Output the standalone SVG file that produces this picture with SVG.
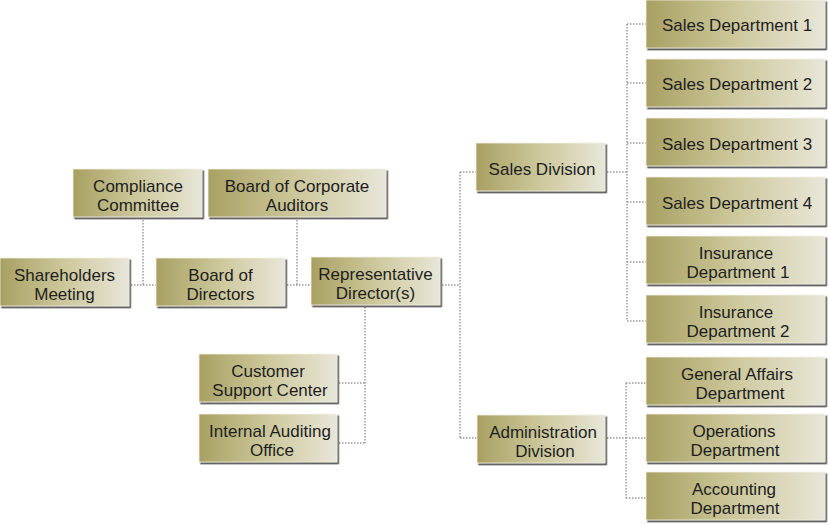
<svg xmlns="http://www.w3.org/2000/svg" width="828" height="525" viewBox="0 0 828 525">
<defs>
<linearGradient id="g" x1="0" y1="0" x2="1" y2="0">
<stop offset="0" stop-color="#a8a062"/>
<stop offset="0.5" stop-color="#cdc89c"/>
<stop offset="1" stop-color="#e8e6d8"/>
</linearGradient>
<filter id="sh" x="-5%" y="-10%" width="115%" height="130%">
<feDropShadow dx="1.6" dy="1.8" stdDeviation="0.7" flood-color="#3a3a3a" flood-opacity="0.9"/>
</filter>
</defs>
<style>
.b{fill:url(#g);stroke:#f2f0e4;stroke-width:0.8;filter:url(#sh)}
.t{font-family:"Liberation Sans",Arial,sans-serif;font-size:17px;fill:#1e1e1e;text-anchor:middle}
.c{fill:none;stroke:#9a9a9a;stroke-width:1.5;stroke-dasharray:1.5 1.5}
</style>
<rect width="828" height="525" fill="#ffffff"/>
<g id="connectors">
<path class="c" d="M131 285H156M143 220V285M287 285H311M297 220V285"/>
<path class="c" d="M442 285H460M460 172V438M460 172H476M460 438H477"/>
<path class="c" d="M365 307V443M339 383H365M339 443H365"/>
<path class="c" d="M607 172H627M627 24V321M627 24H646M627 83H646M627 143H646M627 202H646M627 262H646M627 321H646"/>
<path class="c" d="M607 438H626M626 383V498M626 383H646M626 438H646M626 498H646"/>
</g>
<g id="shareholders"><rect class="b" x="0" y="258" width="129" height="48"/><text class="t" x="64.5" y="281">Shareholders</text><text class="t" x="64.5" y="300">Meeting</text></g>
<g id="compliance"><rect class="b" x="73" y="169" width="129" height="48"/><text class="t" x="138" y="192">Compliance</text><text class="t" x="138" y="211">Committee</text></g>
<g id="auditors"><rect class="b" x="208" y="169" width="178" height="48"/><text class="t" x="297" y="192">Board of Corporate</text><text class="t" x="297" y="211">Auditors</text></g>
<g id="board"><rect class="b" x="156" y="258" width="129" height="48"/><text class="t" x="220.5" y="281">Board of</text><text class="t" x="220.5" y="300">Directors</text></g>
<g id="repdir"><rect class="b" x="311" y="257" width="129" height="48"/><text class="t" x="375.5" y="280">Representative</text><text class="t" x="375.5" y="299">Director(s)</text></g>
<g id="customer"><rect class="b" x="199" y="354" width="138" height="48"/><text class="t" x="268" y="377">Customer</text><text class="t" x="270" y="396">Support Center</text></g>
<g id="internal"><rect class="b" x="199" y="414" width="138" height="48"/><text class="t" x="270" y="437">Internal Auditing</text><text class="t" x="272" y="456">Office</text></g>
<g id="salesdiv"><rect class="b" x="476" y="143" width="129" height="48"/><text class="t" x="542" y="175">Sales Division</text></g>
<g id="admindiv"><rect class="b" x="477" y="415" width="128" height="48"/><text class="t" x="543" y="438">Administration</text><text class="t" x="545" y="457">Division</text></g>
<g id="sales1"><rect class="b" x="646" y="0" width="179" height="48"/><text class="t" x="737" y="31">Sales Department 1</text></g>
<g id="sales2"><rect class="b" x="646" y="59" width="179" height="48"/><text class="t" x="737" y="90">Sales Department 2</text></g>
<g id="sales3"><rect class="b" x="646" y="118" width="179" height="48"/><text class="t" x="737" y="150">Sales Department 3</text></g>
<g id="sales4"><rect class="b" x="646" y="177" width="179" height="48"/><text class="t" x="737" y="209">Sales Department 4</text></g>
<g id="ins1"><rect class="b" x="646" y="236" width="179" height="48"/><text class="t" x="736" y="259">Insurance</text><text class="t" x="738" y="278">Department 1</text></g>
<g id="ins2"><rect class="b" x="646" y="295" width="179" height="48"/><text class="t" x="736" y="318">Insurance</text><text class="t" x="738" y="337">Department 2</text></g>
<g id="general"><rect class="b" x="646" y="357" width="179" height="48"/><text class="t" x="737" y="380">General Affairs</text><text class="t" x="740" y="399">Department</text></g>
<g id="operations"><rect class="b" x="646" y="414" width="179" height="48"/><text class="t" x="734" y="437">Operations</text><text class="t" x="735" y="456">Department</text></g>
<g id="accounting"><rect class="b" x="646" y="472" width="179" height="48"/><text class="t" x="734" y="495">Accounting</text><text class="t" x="735" y="514">Department</text></g>
</svg>
